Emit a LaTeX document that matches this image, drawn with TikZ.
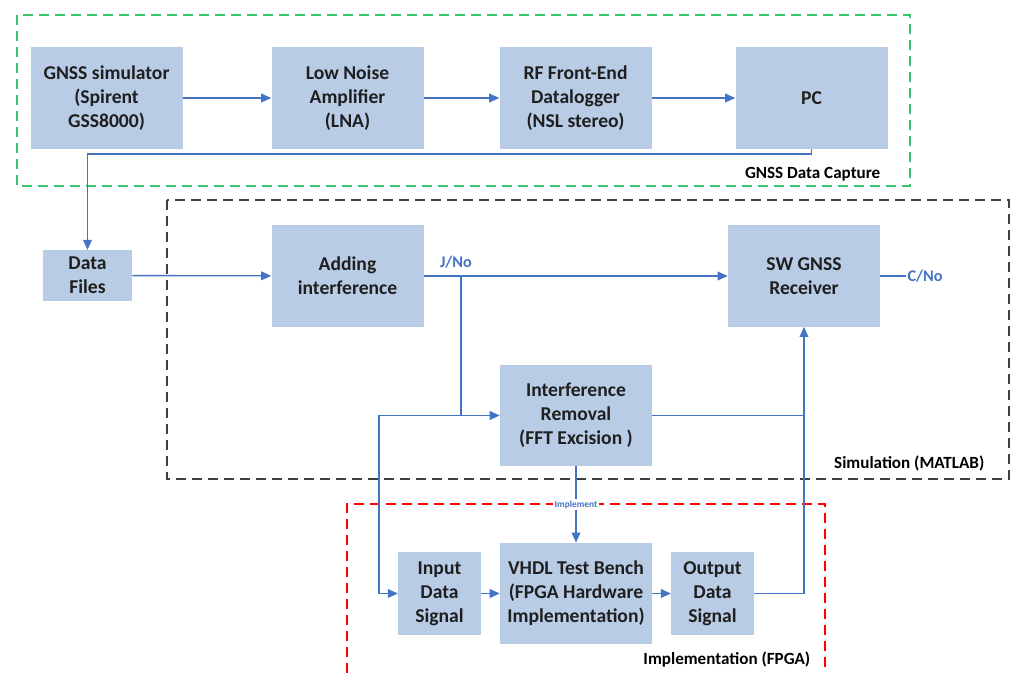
\documentclass[tikz,border=0pt]{standalone}
\usepackage{fontspec}
\setmainfont{Carlito}
\usetikzlibrary{arrows.meta,positioning}

\definecolor{boxfill}{HTML}{B9CCE6}
\definecolor{linkblue}{HTML}{4472C4}
\definecolor{capgreen}{HTML}{3CC46A}
\definecolor{simgray}{HTML}{404040}

\tikzset{
  block/.style={fill=boxfill, text=black!88, font=\bfseries\fontsize{14.7}{18}\selectfont,
    align=center, inner sep=2pt},
  bigblock/.style={block, minimum width=114pt, minimum height=76pt},
  smallblock/.style={block, minimum width=62pt, minimum height=62pt},
  link/.style={draw=linkblue, line width=1pt},
  arrowlink/.style={link, -{Triangle[length=7.5pt,width=6.5pt]}},
  frame/.style={line width=1.2pt, dash pattern=on 7.5pt off 4.5pt},
  framelabel/.style={font=\bfseries\fontsize{12.8}{15}\selectfont, text=black},
  quantity/.style={font=\bfseries\fontsize{12.2}{14}\selectfont, text=linkblue, inner sep=1pt}
}

\begin{document}
\begin{tikzpicture}[x=0.75pt, y=-0.75pt]
\useasboundingbox (0,0) rectangle (1011,673);

% dashed frames
\draw[frame, draw=capgreen] (17,15) rectangle (910,186);
\draw[frame, draw=simgray] (167,200) rectangle (1009,479);
\draw[frame, draw=red] (347,673) -- (347,504) -- (825,504) -- (825,673);

\node[framelabel, anchor=east] (capturelabel) at (885,174) {GNSS Data Capture};
\node[framelabel, anchor=east] (simlabel) at (989,463) {Simulation (MATLAB)};
\node[framelabel, anchor=east] (fpgalabel) at (815,660) {Implementation (FPGA)};

% data capture chain
\node[bigblock] (sim) at (106.5,98) {GNSS simulator\\(Spirent\\GSS8000)};
\node[bigblock] (lna) at (347.5,98) {Low Noise\\Amplifier\\(LNA)};
\node[bigblock] (rf) at (575.5,98) {RF Front-End\\Datalogger\\(NSL stereo)};
\node[bigblock] (pc) at (811.5,98) {PC};

% simulation
\node[block, minimum width=67pt, minimum height=38pt] (files) at (87.5,275.5) {Data\\Files};
\node[bigblock] (adding) at (347.5,276) {Adding\\interference};
\node[bigblock] (sw) at (804,276) {SW GNSS\\Receiver};
\node[bigblock] (removal) at (576,415.5) {Interference\\Removal\\(FFT Excision )};

% FPGA
\node[smallblock] (input) at (439.5,593.5) {Input\\Data\\Signal};
\node[bigblock] (vhdl) at (576,593.5) {VHDL Test Bench\\(FPGA Hardware\\Implementation)};
\node[smallblock] (output) at (712.5,593.5) {Output\\Data\\Signal};

\coordinate (jn) at (461,276);
\coordinate (loop) at (379,415.5);
\node[quantity, anchor=south] (jno) at (456,270) {J/No};
\node[quantity, anchor=west] (cno) at (906,276) {C/No};

% connectors
\draw[arrowlink] (sim) -- (lna);
\draw[arrowlink] (lna) -- (rf);
\draw[arrowlink] (rf) -- (pc);
\draw[arrowlink] (pc.south) -- ++(0,5) -| (files.north);
\draw[arrowlink] (files) -- (adding);
\draw[arrowlink] (adding) -- (sw);
\draw[link] (sw) -- (cno);
\draw[arrowlink] (jn) |- (removal.west);
\draw[arrowlink] (jn |- removal.west) -- (loop) |- (input.west);
\draw[arrowlink] (removal.east) -| (sw.south);
\draw[link] (output.east) -| (sw.south |- removal.east);
\draw[arrowlink] (removal) -- (vhdl) node[midway, fill=white, inner sep=1pt,
  font=\bfseries\fontsize{7}{8}\selectfont, text=linkblue] (impl) {Implement};
\draw[arrowlink] (input) -- (vhdl);
\draw[arrowlink] (vhdl) -- (output);

\end{tikzpicture}
\end{document}
